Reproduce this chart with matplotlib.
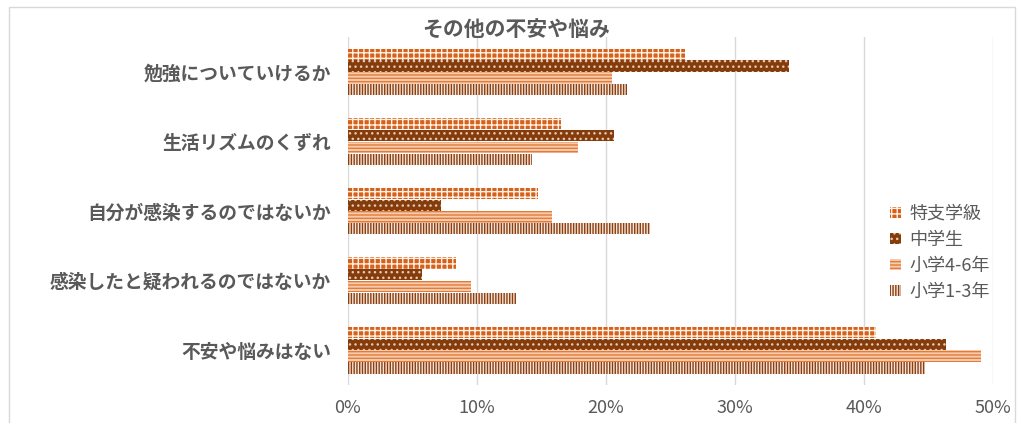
import matplotlib.pyplot as plt
import numpy as np

plt.rcParams['font.family'] = ['Noto Sans CJK JP', 'DejaVu Sans']
plt.rcParams['hatch.linewidth'] = 1.0

# カテゴリと値（%）
categories = ['勉強についていけるか', '生活リズムのくずれ', '自分が感染するのではないか',
              '感染したと疑われるのではないか', '不安や悩みはない']
tokushi = [26.1, 16.5, 14.7, 8.4, 40.9]
chugaku = [34.2, 20.6, 7.2, 5.7, 46.4]
sho46 = [20.5, 17.8, 15.8, 9.5, 49.1]
sho13 = [21.6, 14.3, 23.4, 13.0, 44.7]
series_names = ['特支学級', '中学生', '小学4-6年', '小学1-3年']

fig = plt.figure(figsize=(10.22, 4.23), dpi=100)
ax = fig.add_axes([0.3405, 0.090, 0.631, 0.822])

y = np.arange(len(categories))
h = 0.17
styles = [
    dict(color='#D4621C', edgecolor='#FFF0E6', hatch='+++'),
    dict(color='#843C0C', edgecolor='#E8C8B0', hatch='...'),
    dict(color='#F8CBAD', edgecolor='#E07B39', hatch='-----'),
    dict(color='#F3E3D8', edgecolor='#8B3E0F', hatch='||||||'),
]
data = [tokushi, chugaku, sho46, sho13]
offsets = [-1.5 * h, -0.5 * h, 0.5 * h, 1.5 * h]
for vals, off, st, name in zip(data, offsets, styles, series_names):
    ax.barh(y + off, vals, height=h * 0.95, facecolor=st['color'],
            edgecolor=st['edgecolor'], hatch=st['hatch'], linewidth=0,
            label=name, zorder=3)

ax.set_ylim(len(categories) - 0.5, -0.5)
ax.set_xlim(0, 50)
ax.set_xticks(np.arange(0, 51, 10))
ax.set_xticklabels([f'{v}%' for v in range(0, 51, 10)], fontsize=13, color='#595959')
ax.set_yticks(y)
ax.set_yticklabels(categories, fontsize=13.5, color='#595959', fontweight='bold')
ax.tick_params(length=0, pad=12)
ax.tick_params(axis='x', pad=10)
ax.grid(axis='x', color='#D9D9D9', linewidth=1, zorder=0)
for s in ax.spines.values():
    s.set_visible(False)

fig.text(0.505, 0.915, 'その他の不安や悩み', ha='center', fontsize=15,
         fontweight='bold', color='#595959')

ax.legend(loc='center left', bbox_to_anchor=(0.815, 0.38), frameon=False,
          fontsize=13, labelcolor='#595959', handlelength=0.6, handleheight=0.6,
          handletextpad=0.5, labelspacing=0.45)

# グラフ枠
fig.patches.append(plt.Rectangle((0.009, -0.01), 0.984, 0.994, transform=fig.transFigure,
                                 fill=False, edgecolor='#D9D9D9', linewidth=1))

fig.savefig('out.png', dpi=100, facecolor='white')
